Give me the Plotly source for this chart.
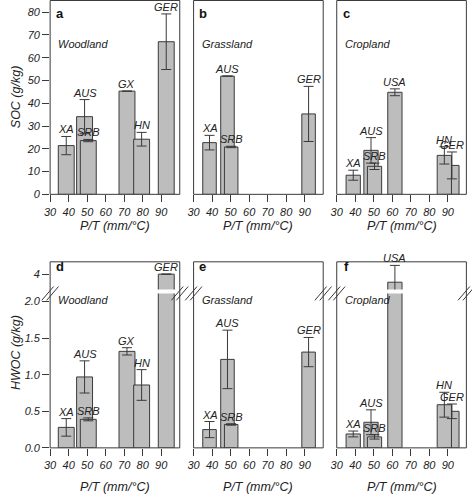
import plotly.graph_objects as go
import math

# ---------------- data ----------------
wood_sites = ["XA", "AUS", "SRB", "GX", "HN", "GER"]
wood_pt = [38.7, 48.6, 50.6, 71.5, 79.4, 92.7]
wood_soc = [21.4, 34.1, 23.6, 45.3, 24.2, 67.0]
wood_soc_err = [4.0, 7.5, 0.5, 0.0, 3.0, 12.2]
wood_hwoc = [0.28, 0.97, 0.39, 1.32, 0.86, 4.0]
wood_hwoc_err = [0.12, 0.22, 0.02, 0.05, 0.21, float("nan")]

grass_sites = ["XA", "AUS", "SRB", "GER"]
grass_pt = [38.6, 48.3, 50.3, 92.1]
grass_soc = [22.7, 51.9, 20.8, 35.3]
grass_soc_err = [3.2, 0.0, 0.3, 12.1]
grass_hwoc = [0.25, 1.21, 0.32, 1.31]
grass_hwoc_err = [0.11, 0.40, 0.01, 0.20]

crop_sites = ["XA", "AUS", "SRB", "USA", "GER", "HN"]
crop_pt = [38.9, 48.5, 50.4, 61.4, 92.2, 88.1]
crop_soc = [8.4, 19.3, 12.3, 44.8, 12.7, 17.1]
crop_soc_err = [2.2, 5.6, 1.4, 1.5, 5.9, 3.8]
crop_hwoc = [0.19, 0.35, 0.15, 3.89, 0.50, 0.59]
crop_hwoc_err = [0.04, 0.17, 0.03, 0.23, 0.10, 0.17]

land_names = ["Woodland", "Grassland", "Cropland"]
top_letters = ["a", "b", "c"]
bottom_letters = ["d", "e", "f"]
x_ticks = [30, 40, 50, 60, 70, 80, 90]
soc_ticks = [0, 10, 20, 30, 40, 50, 60, 70, 80]
hwoc_ticks = [0.0, 0.5, 1.0, 1.5, 2.0]
hwoc_ticks_upper = [4]
gap_value = 2.1  # values above this are drawn on the upper (broken) segment

# ---------------- layout geometry (pixels) ----------------
W, H = 472, 500
FONT = "Liberation Sans, Arial, sans-serif"
BAR_FILL = "#bdbdbd"
DARK = "#3a3a3a"
BAR_WIDTHS = [8.6, 7.3, 7.7]  # bar width (x units) per land-use panel


def px(x):
    return x / W


def py(y):
    return 1 - y / H


cols = [(44.7, 176.0), (190.0, 321.3), (335.0, 466.3)]
top_y = (0.5, 196.7)
bot_y = (265.0, 453.3)
low_dom = (297.0, 453.3)
up_dom = (265.0, 293.0)
scale_bot = 74.0  # px per unit in bottom row
low_range = [0, (low_dom[1] - low_dom[0]) / scale_bot]
up_range = [4 - (up_dom[1] - 277.5) / scale_bot, 4 + (277.5 - up_dom[0]) / scale_bot]
soc_range = [0, 85.1]

panels = [
    (wood_sites, wood_pt, wood_soc, wood_soc_err, wood_hwoc, wood_hwoc_err),
    (grass_sites, grass_pt, grass_soc, grass_soc_err, grass_hwoc, grass_hwoc_err),
    (crop_sites, crop_pt, crop_soc, crop_soc_err, crop_hwoc, crop_hwoc_err),
]

fig = go.Figure()
layout = {}
annotations = []
shapes = []

tickfont = dict(family=FONT, size=11, color="#222", style="italic")
labfont = dict(family=FONT, size=11, color="#222", style="italic")


def bar(x, y, err, xa, ya, bw):
    return go.Bar(
        x=x, y=y, width=[bw] * len(x),
        marker=dict(color=BAR_FILL, line=dict(color=DARK, width=1)),
        error_y=dict(type="data", array=err, color=DARK, thickness=1, width=5),
        xaxis=xa, yaxis=ya, showlegend=False, hoverinfo="x+y",
    )


for i, (sites, pt, soc, soc_err, hw, hw_err) in enumerate(panels):
    x0, x1 = cols[i]
    bw = BAR_WIDTHS[i]
    # ----- top row -----
    xt = i + 1
    yt = i + 1
    layout[f"xaxis{xt}"] = dict(
        domain=[px(x0), px(x1)], range=[30, 100], anchor=f"y{yt}",
        tickvals=x_ticks, ticks="outside", ticklen=7, tickcolor=DARK,
        showgrid=False, zeroline=False, showline=False, tickfont=tickfont,
    )
    layout[f"yaxis{yt}"] = dict(
        domain=[py(top_y[1]), py(top_y[0])], range=soc_range, anchor=f"x{xt}",
        tickvals=soc_ticks if i == 0 else [], ticks="outside" if i == 0 else "",
        ticklen=7, tickcolor=DARK, showticklabels=(i == 0),
        showgrid=False, zeroline=False, showline=False, tickfont=tickfont,
    )
    fig.add_trace(bar(pt, soc, soc_err, f"x{xt}", f"y{yt}", bw))
    for s, xv, v, e in zip(sites, pt, soc, soc_err):
        annotations.append(dict(x=xv, y=v + e, xref=f"x{xt}", yref=f"y{yt}",
                                text=s, showarrow=False, yanchor="middle",
                                yshift=7, font=labfont))
    shapes.append(dict(type="rect", xref="paper", yref="paper",
                       x0=px(x0), x1=px(x1), y0=py(top_y[1]), y1=py(top_y[0]),
                       line=dict(color=DARK, width=1)))
    annotations.append(dict(x=px(x0 + 9.5), y=py(13.5), xref="paper", yref="paper",
                            text=f"<b>{top_letters[i]}</b>", showarrow=False,
                            xanchor="center", yanchor="middle",
                            font=dict(family=FONT, size=13, color="#111")))
    annotations.append(dict(x=px(x0 + 6), y=py(44.3), xref="paper", yref="paper",
                            text=land_names[i], showarrow=False,
                            xanchor="left", yanchor="middle", font=labfont))
    annotations.append(dict(x=px((x0 + x1) / 2), y=py(228.5), xref="paper", yref="paper",
                            text="P/T (mm/\u00b0C)", showarrow=False,
                            xanchor="center", yanchor="middle",
                            font=dict(family=FONT, size=12.5, color="#222", style="italic")))

    # ----- bottom row -----
    xb = i + 4
    yl = i + 4
    yu = i + 7
    layout[f"xaxis{xb}"] = dict(
        domain=[px(x0), px(x1)], range=[30, 100], anchor=f"y{yl}",
        tickvals=x_ticks, ticks="outside", ticklen=7, tickcolor=DARK,
        showgrid=False, zeroline=False, showline=False, tickfont=tickfont,
    )
    layout[f"yaxis{yl}"] = dict(
        domain=[py(low_dom[1]), py(low_dom[0])], range=low_range, anchor=f"x{xb}",
        tickvals=hwoc_ticks if i == 0 else [], ticktext=[f"{t:.1f}" for t in hwoc_ticks] if i == 0 else [],
        ticks="outside" if i == 0 else "", ticklen=7, tickcolor=DARK,
        showticklabels=(i == 0), showgrid=False, zeroline=False, showline=False,
        tickfont=tickfont,
    )
    layout[f"yaxis{yu}"] = dict(
        domain=[py(up_dom[1]), py(up_dom[0])], range=up_range, anchor=f"x{xb}",
        tickvals=hwoc_ticks_upper if i == 0 else [], ticks="outside" if i == 0 else "",
        ticklen=7, tickcolor=DARK, showticklabels=(i == 0),
        showgrid=False, zeroline=False, showline=False, tickfont=tickfont,
    )
    low_err = [float("nan") if v > gap_value else e for v, e in zip(hw, hw_err)]
    fig.add_trace(bar(pt, hw, low_err, f"x{xb}", f"y{yl}", bw))
    up_x = [xv for xv, v in zip(pt, hw) if v > gap_value]
    up_v = [v for v in hw if v > gap_value]
    up_e = [e for v, e in zip(hw, hw_err) if v > gap_value]
    if up_x:
        fig.add_trace(bar(up_x, up_v, up_e, f"x{xb}", f"y{yu}", bw))
    for s, xv, v, e in zip(sites, pt, hw, hw_err):
        ee = 0 if (e is None or math.isnan(e)) else e
        annotations.append(dict(x=xv, y=v + ee, xref=f"x{xb}",
                                yref=f"y{yu}" if v > gap_value else f"y{yl}",
                                text=s, showarrow=False, yanchor="middle",
                                yshift=7, font=labfont))
    shapes.append(dict(type="rect", xref="paper", yref="paper",
                       x0=px(x0), x1=px(x1), y0=py(bot_y[1]), y1=py(bot_y[0]),
                       line=dict(color=DARK, width=1)))
    annotations.append(dict(x=px(x0 + 9.5), y=py(269.5), xref="paper", yref="paper",
                            text=f"<b>{bottom_letters[i]}</b>", showarrow=False,
                            xanchor="center", yanchor="middle",
                            font=dict(family=FONT, size=13, color="#111")))
    annotations.append(dict(x=px(x0 + 6), y=py(303.3), xref="paper", yref="paper",
                            text=land_names[i], showarrow=False,
                            xanchor="left", yanchor="middle", font=labfont))
    annotations.append(dict(x=px((x0 + x1) / 2), y=py(493.3), xref="paper", yref="paper",
                            text="P/T (mm/\u00b0C)", showarrow=False,
                            xanchor="center", yanchor="middle",
                            font=dict(family=FONT, size=12.5, color="#222", style="italic")))
    # break marks on both edges
    cy = (up_dom[1] + low_dom[0]) / 2 + 2
    for cx in (x0, x1):
        for dx in (-2.5, 2.5):
            shapes.append(dict(type="line", xref="paper", yref="paper",
                               x0=px(cx + dx - 6), y0=py(cy + 7),
                               x1=px(cx + dx + 6), y1=py(cy - 7),
                               line=dict(color=DARK, width=1)))

# y-axis titles
annotations.append(dict(x=px(9.5), y=py(98), xref="paper", yref="paper",
                        text="SOC (g/kg)", showarrow=False, textangle=-90,
                        xanchor="center", yanchor="middle",
                        font=dict(family=FONT, size=12.5, color="#222", style="italic")))
annotations.append(dict(x=px(9.5), y=py(357), xref="paper", yref="paper",
                        text="HWOC (g/kg)", showarrow=False, textangle=-90,
                        xanchor="center", yanchor="middle",
                        font=dict(family=FONT, size=12.5, color="#222", style="italic")))

fig.update_layout(
    width=W, height=H, margin=dict(l=0, r=0, t=0, b=0),
    paper_bgcolor="white", plot_bgcolor="white",
    barmode="overlay", showlegend=False,
    annotations=annotations, shapes=shapes,
    font=dict(family=FONT, color="#222"),
    **layout,
)
fig.write_html(
    "out.html",
    config={"displayModeBar": False, "responsive": False},
    post_script="document.body.style.margin='0';document.body.style.padding='0';"
                "document.documentElement.style.overflow='hidden';",
)
